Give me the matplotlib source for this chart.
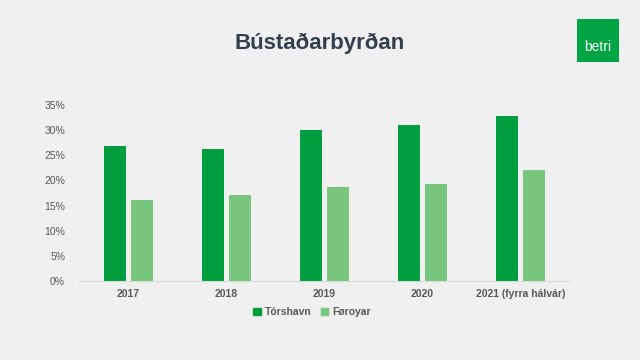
import numpy as np
import matplotlib.pyplot as plt
import matplotlib.patches as mpatches
from matplotlib.ticker import PercentFormatter

# data
years = ['2017', '2018', '2019', '2020', '2021 (fyrra hálvár)']
torshavn = [0.268, 0.263, 0.300, 0.310, 0.328]
foroyar = [0.161, 0.171, 0.187, 0.193, 0.221]

bg = '#f0f0f0'
dark = '#009e3f'
light = '#78c67e'

plt.rcParams['font.family'] = ['Liberation Sans', 'DejaVu Sans']

fig = plt.figure(figsize=(6.4, 3.6), dpi=100, facecolor=bg)
ax = fig.add_axes([0.1234, 0.2194, 0.767, 0.489], facecolor=bg)

x = np.arange(len(years))
w = 0.225
gap = 0.05
ax.bar(x - (w + gap) / 2, torshavn, w, color=dark, label='Tórshavn')
ax.bar(x + (w + gap) / 2, foroyar, w, color=light, label='Føroyar')

ax.set_xlim(-0.5, len(years) - 0.5)
ax.set_ylim(0, 0.35)
ax.set_yticks(np.arange(0, 0.351, 0.05))
ax.yaxis.set_major_formatter(PercentFormatter(1.0, decimals=0))
ax.set_xticks(x)
ax.set_xticklabels(years, fontweight='bold')
ax.tick_params(axis='both', length=0, labelsize=7.5, colors='#595959')
ax.tick_params(axis='x', pad=6)
ax.tick_params(axis='y', pad=10)
for s in ['top', 'right', 'left']:
    ax.spines[s].set_visible(False)
ax.spines['bottom'].set_color('#d9d9d9')

fig.text(0.5, 0.88, 'Bústaðarbyrðan', ha='center', va='center',
         fontsize=16, fontweight='bold', color='#333f4c')

# legend
handles = [mpatches.Patch(color=dark, label='Tórshavn'),
           mpatches.Patch(color=light, label='Føroyar')]
fig.legend(handles=handles, loc='center', bbox_to_anchor=(0.488, 0.133), ncol=2,
           frameon=False, handlelength=0.7, handleheight=0.7,
           handletextpad=0.4, columnspacing=0.9, labelcolor='#595959',
           prop={'weight': 'bold', 'size': 7.5})

# logo box
logo = fig.add_axes([577 / 640, 1 - 62 / 360, 42 / 640, 43 / 360], facecolor='#00a443')
logo.set_xticks([])
logo.set_yticks([])
for s in logo.spines.values():
    s.set_visible(False)
logo.text(0.5, 0.35, 'betri', ha='center', va='center', color='white', fontsize=10,
          transform=logo.transAxes)

fig.savefig('out.png', dpi=100, facecolor=bg)
